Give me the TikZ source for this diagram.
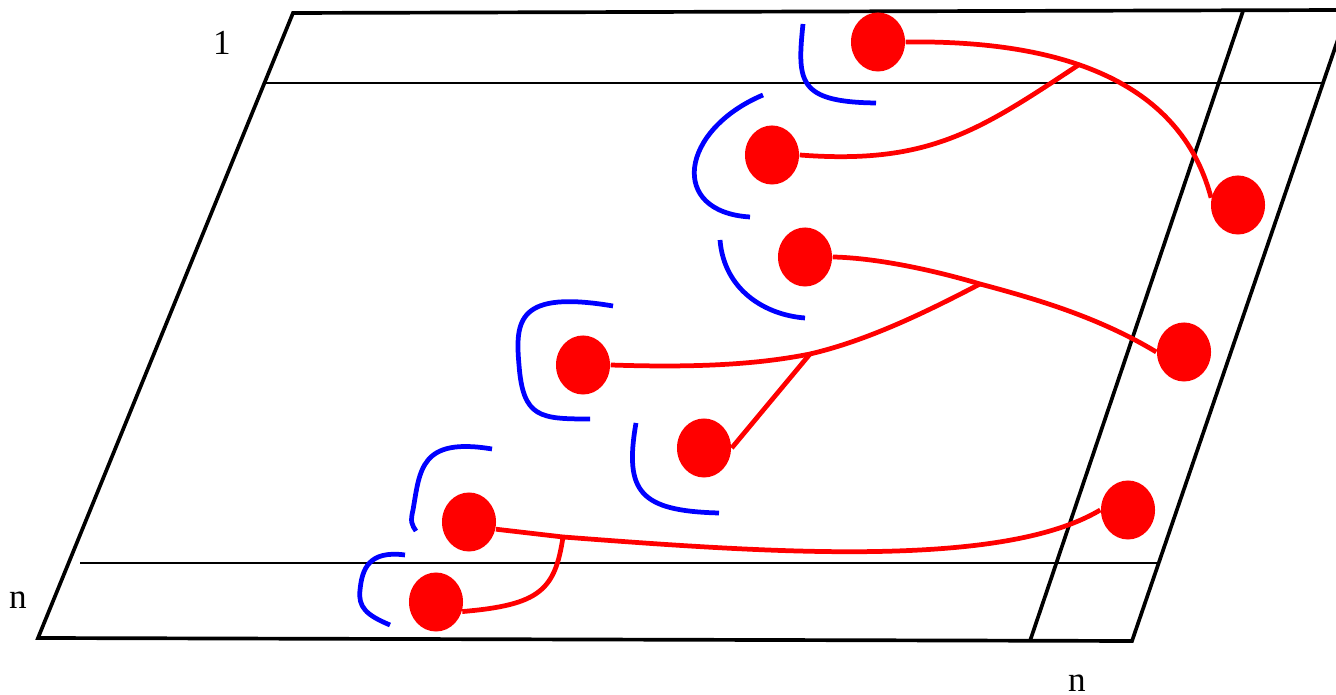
\documentclass[tikz,border=0pt]{standalone}
\usepackage{fontspec}
\setmainfont{Liberation Serif}
\usetikzlibrary{positioning, shapes.geometric}
\tikzset{
  frame/.style={line width=1.05pt, line join=miter},
  rowline/.style={line width=0.5pt},
  dot/.style={ellipse, fill=red, draw=none, inner sep=0pt,
    minimum width=0.54cm, minimum height=0.59cm},
  link/.style={red, line width=1.35pt},
  hook/.style={blue, line width=1.35pt},
  lbl/.style={font=\fontsize{10}{12}\selectfont, inner sep=0pt},
}

\begin{document}
\begin{tikzpicture}[x=0.01cm, y=-0.01cm]
    \useasboundingbox (0,0) rectangle (1336,695);
    \clip (0,0) rectangle (1336,695);
    % the board
    \draw[frame] (38,638) -- (293,13) -- (1348,10) -- (1132,641) -- cycle;
    \draw[frame] (1030,641) -- (1243,11);
    \draw[rowline] (265,83) -- (1324,83);
    \draw[rowline] (80,563) -- (1160,563);
    \node[lbl] (one) at (222,43) {1};
    \node[lbl] (nrow) at (18,600) {n};
    \node[lbl] (ncol) at (1077,683) {n};
    % the dots
    \node[dot] (dA) at (878,42) {};
    \node[dot] (dB) at (772,155) {};
    \node[dot] (dC) at (805,257) {};
    \node[dot] (dD) at (583,365) {};
    \node[dot] (dE) at (704,448) {};
    \node[dot] (dF) at (469,522) {};
    \node[dot] (dG) at (436,602) {};
    \node[dot] (rA) at (1238,205) {};
    \node[dot] (rB) at (1184,352) {};
    \node[dot] (rC) at (1128,510) {};
    % free ends and branch points
    \coordinate (tipB) at (1080,64);
    \coordinate (joinC) at (980,284);
    \coordinate (joinD) at (810,354);
    \coordinate (joinF) at (563,537);
    % red links
    \draw[link] (dA.east) .. controls (1060,40) and (1180,80) .. (rA.165);
    \draw[link] (dB.east) .. controls (930,165) and (980,130) .. (tipB);
    \draw[link] (dC.east) .. controls (880,258) and (940,272) .. (joinC)
      .. controls (1040,300) and (1100,318) .. (rB.west);
    \draw[link] (dD.east) .. controls (700,368) and (760,364) .. (joinD)
      .. controls (870,340) and (930,310) .. (joinC);
    \draw[link] (dE.east) -- (joinD);
    \draw[link] (dF.-15) -- (joinF)
      .. controls (760,552) and (1000,570) .. (rC.west);
    \draw[link] (dG.-20) .. controls (540,605) and (555,590) .. (joinF);
    % blue hooks
    \draw[hook] (803,24) .. controls (797,82) and (798,102) .. (876,103);
    \draw[hook] (763,95) .. controls (680,130) and (668,212) .. (750,217);
    \draw[hook] (720,240) .. controls (724,290) and (765,315) .. (805,318);
    \draw[hook] (613,306) .. controls (518,290) and (515,320) .. (519,365)
      .. controls (523,418) and (540,419) .. (590,419);
    \draw[hook] (636,423) .. controls (624,492) and (640,511) .. (719,513);
    \draw[hook] (492,449) .. controls (420,437) and (420,470) .. (413,510)
      .. controls (410,522) and (412,525) .. (416,531);
    \draw[hook] (405,555) .. controls (368,550) and (362,570) .. (360,590)
      .. controls (358,607) and (366,615) .. (390,625);
\end{tikzpicture}
\end{document}
